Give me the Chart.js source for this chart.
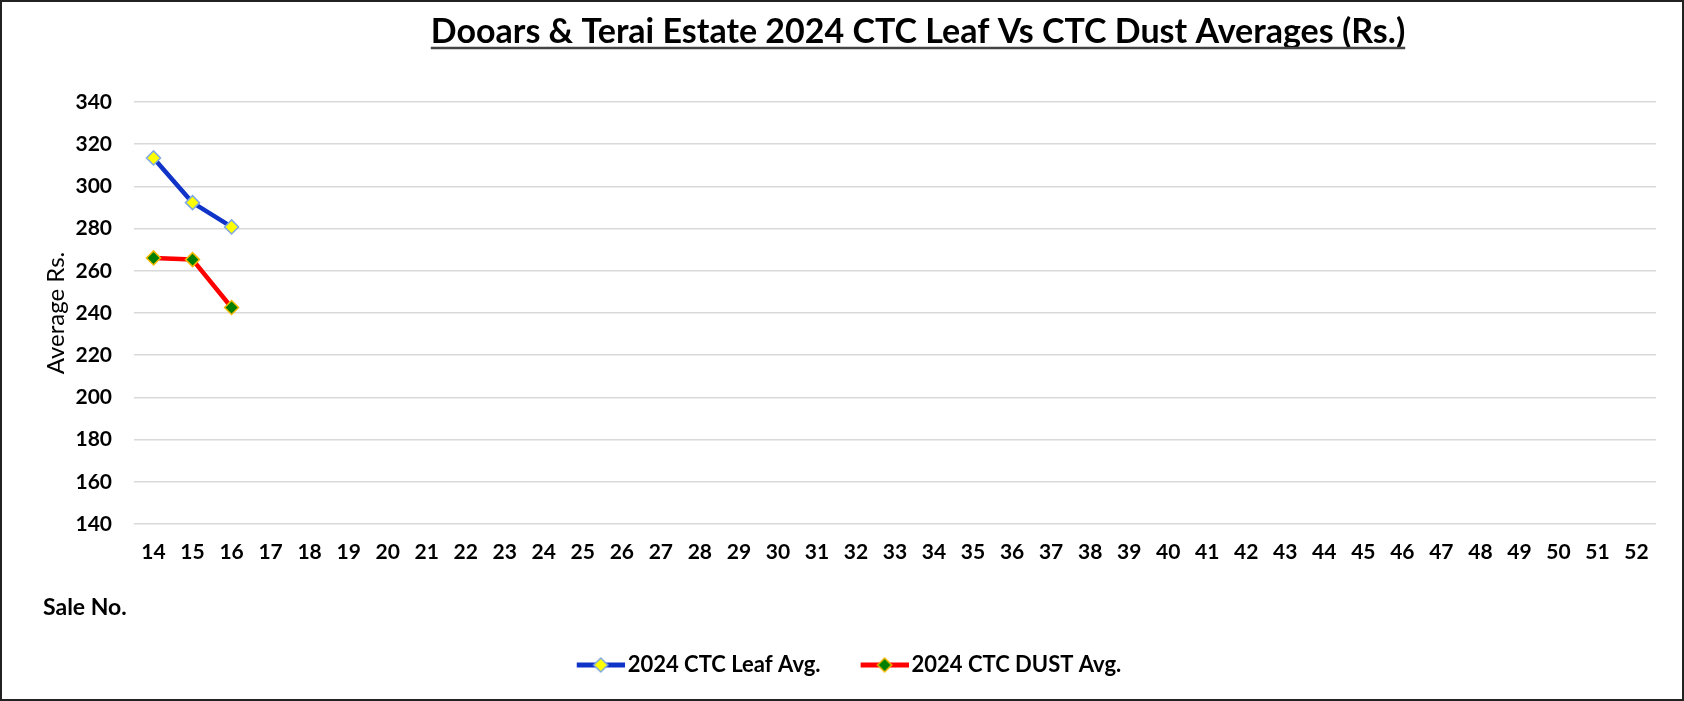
<!DOCTYPE html>
<html lang="en">
<head>
    <meta charset="UTF-8">
    <title>Dooars & Terai Estate 2024 CTC Leaf Vs CTC Dust Averages</title>
    <script src="https://cdn.jsdelivr.net/npm/chart.js"></script>
    <style>
        html, body { margin: 0; padding: 0; background: #fff; }
        .chart-container { position: relative; width: 1684px; height: 701px; }
    </style>
</head>
<body>
    <div class="chart-container">
        <canvas id="teaChart"></canvas>
    </div>
    <script>
        // Sale numbers along the x axis
        const saleNos = ['14', '15', '16', '17', '18', '19', '20', '21', '22', '23', '24', '25', '26',
            '27', '28', '29', '30', '31', '32', '33', '34', '35', '36', '37', '38', '39', '40',
            '41', '42', '43', '44', '45', '46', '47', '48', '49', '50', '51', '52'];
        // Averages (Rs.), only sales 14-16 reported so far
        const leafAvg = [313.5, 292.3, 280.8];
        const dustAvg = [266.1, 265.3, 242.6];
        const yMin = 140, yMax = 340, yStep = 20;

        const FONT = 'Lato';

        // small line + diamond picture for the legend entries
        function legendIcon(lineColor, fill, edge) {
            const c = document.createElement('canvas');
            c.width = 56; c.height = 18;
            const g = c.getContext('2d');
            g.strokeStyle = lineColor; g.lineWidth = 5;
            g.beginPath(); g.moveTo(8, 9); g.lineTo(56, 9); g.stroke();
            g.fillStyle = fill; g.strokeStyle = edge; g.lineWidth = 1.5;
            g.beginPath();
            g.moveTo(32, 2); g.lineTo(39, 9); g.lineTo(32, 16); g.lineTo(25, 9);
            g.closePath(); g.fill(); g.stroke();
            return c;
        }
        const icons = [
            legendIcon('#1034c8', '#ffff00', '#7fa7e0'),
            legendIcon('#ff0000', '#008000', '#f5b800')
        ];

        const framePlugin = {
            id: 'frame',
            beforeDraw(chart) {
                const ctx = chart.ctx;
                ctx.save();
                ctx.fillStyle = '#fff';
                ctx.fillRect(0, 0, chart.width, chart.height);
                ctx.restore();
            },
            afterDraw(chart) {
                const ctx = chart.ctx;
                ctx.save();
                // title with underline
                ctx.font = 'bold 34px ' + FONT;
                ctx.fillStyle = '#000';
                ctx.textAlign = 'center';
                ctx.textBaseline = 'middle';
                const title = 'Dooars & Terai Estate 2024 CTC Leaf Vs CTC Dust Averages (Rs.)';
                const tx = 918, ty = 32;
                ctx.fillText(title, tx, ty);
                const w = ctx.measureText(title).width;
                ctx.strokeStyle = '#444';
                ctx.lineWidth = 2.5;
                ctx.beginPath();
                ctx.moveTo(tx - w / 2, ty + 16);
                ctx.lineTo(tx + w / 2, ty + 16);
                ctx.stroke();
                // x axis caption sits left of the plot
                ctx.font = 'bold 23px ' + FONT;
                ctx.textAlign = 'left';
                ctx.fillText('Sale No.', 43, 608);
                // outer frame
                ctx.strokeStyle = '#222';
                ctx.lineWidth = 2;
                ctx.strokeRect(1, 1, chart.width - 2, chart.height - 2);
                ctx.restore();
            }
        };

        const ctx = document.getElementById('teaChart').getContext('2d');
        new Chart(ctx, {
            type: 'line',
            data: {
                labels: saleNos,
                datasets: [
                    {
                        label: '2024 CTC Leaf Avg.',
                        data: leafAvg,
                        borderColor: '#1034c8',
                        borderWidth: 4.5,
                        borderCapStyle: 'round',
                        borderJoinStyle: 'round',
                        pointStyle: 'rectRot',
                        pointRadius: 7,
                        pointBackgroundColor: '#ffff00',
                        pointBorderColor: '#7fa7e0',
                        pointBorderWidth: 1.5,
                        tension: 0
                    },
                    {
                        label: '2024 CTC DUST Avg.',
                        data: dustAvg,
                        borderColor: '#ff0000',
                        borderWidth: 4.5,
                        borderCapStyle: 'round',
                        borderJoinStyle: 'round',
                        pointStyle: 'rectRot',
                        pointRadius: 7,
                        pointBackgroundColor: '#008000',
                        pointBorderColor: '#f5b800',
                        pointBorderWidth: 1.5,
                        tension: 0
                    }
                ]
            },
            options: {
                responsive: true,
                maintainAspectRatio: false,
                animation: false,
                layout: {
                    padding: { top: 102, left: 42, right: 28, bottom: 15 }
                },
                plugins: {
                    title: { display: false },
                    tooltip: { enabled: false },
                    legend: {
                        position: 'bottom',
                        labels: {
                            usePointStyle: true,
                            pointStyleWidth: 40,
                            padding: 40,
                            color: '#000',
                            font: { family: FONT, size: 22, weight: 'bold' },
                            generateLabels(chart) {
                                const items = Chart.defaults.plugins.legend.labels.generateLabels(chart);
                                items.forEach((it, i) => {
                                    it.pointStyle = icons[i];
                                    it.rotation = 0;
                                });
                                return items;
                            }
                        }
                    }
                },
                scales: {
                    x: {
                        offset: true,
                        grid: { display: false },
                        border: { display: false },
                        ticks: {
                            color: '#000',
                            padding: 8,
                            maxRotation: 0,
                            autoSkip: false,
                            font: { family: FONT, size: 21, weight: 'bold' }
                        },
                        afterFit(scale) { scale.height = 90; }
                    },
                    y: {
                        min: yMin,
                        max: yMax,
                        grid: { color: '#d9d9d9', lineWidth: 1.5, drawTicks: false },
                        border: { display: false },
                        ticks: {
                            stepSize: yStep,
                            color: '#000',
                            padding: 22,
                            font: { family: FONT, size: 21, weight: 'bold' }
                        },
                        title: {
                            display: true,
                            text: 'Average Rs.',
                            color: '#000',
                            padding: 0,
                            font: { family: FONT, size: 24, weight: 'normal' }
                        },
                        afterFit(scale) { scale.width = 92; }
                    }
                }
            },
            plugins: [framePlugin]
        });
    </script>
</body>
</html>
